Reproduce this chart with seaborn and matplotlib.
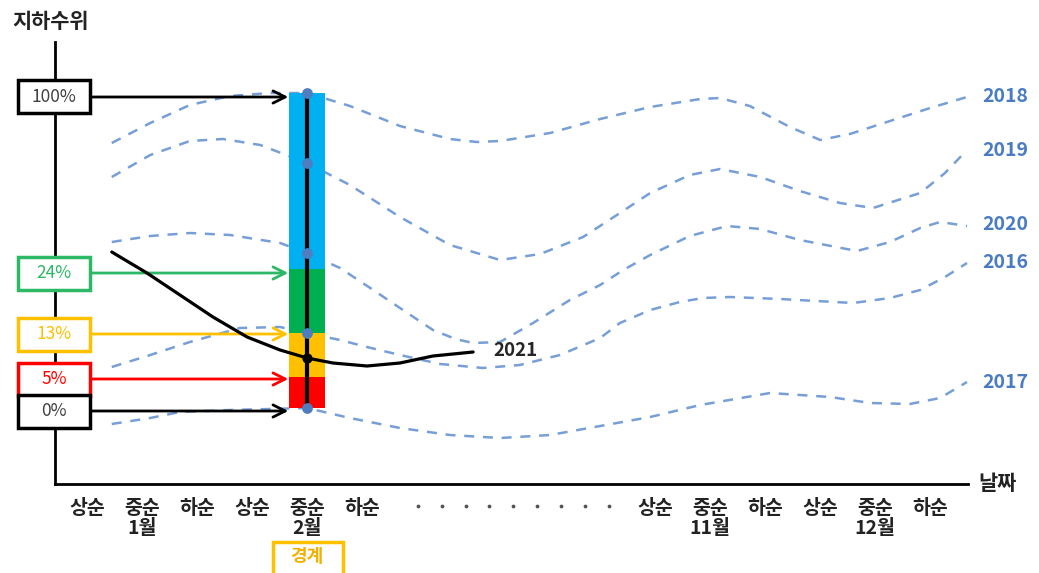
import numpy as np
import pandas as pd
import matplotlib
matplotlib.use("Agg")
import matplotlib.pyplot as plt
import seaborn as sns
from matplotlib.patches import Rectangle

# ---- data (x = 순 index, y = water level, arbitrary units) ----
x_2018 = [0.45, 1.15, 1.87, 2.6, 3.33, 4.0, 4.78, 5.69, 6.6, 7.09, 7.51, 8.42, 9.33, 10.24,
          11.15, 11.51, 12.05, 12.78, 13.33, 13.87, 14.6, 15.33, 16.0]
y_2018 = [34.1, 36.1, 37.9, 38.8, 39.1, 39.1, 37.8, 35.8, 34.5, 34.2, 34.3, 35.1, 36.5, 37.7,
          38.5, 38.6, 37.8, 35.7, 34.4, 35.0, 36.3, 37.6, 38.7]

x_2019 = [0.45, 1.15, 1.87, 2.47, 3.15, 4.0, 4.78, 5.69, 6.6, 7.51, 8.24, 9.02, 9.69, 10.24,
          10.96, 11.51, 12.24, 12.96, 13.69, 14.29, 15.15, 15.6, 16.0]
y_2019 = [30.7, 32.9, 34.3, 34.5, 33.9, 32.1, 29.9, 26.7, 23.9, 22.4, 23.0, 24.7, 27.1, 29.1,
          30.9, 31.5, 30.7, 29.3, 28.1, 27.6, 29.1, 31.1, 33.4]

x_2020 = [0.45, 1.15, 1.87, 2.6, 3.51, 4.0, 4.6, 5.15, 5.69, 6.29, 6.7, 7.02, 7.51, 8.11, 8.78,
          9.33, 9.75, 10.24, 10.96, 11.64, 12.24, 12.96, 14.0, 14.6, 15.15, 15.51, 16.0]
y_2020 = [24.2, 24.8, 25.1, 24.9, 24.1, 23.1, 21.6, 19.6, 17.6, 15.4, 14.5, 14.1, 14.2, 16.1, 18.4,
          19.9, 21.4, 22.9, 24.8, 25.8, 25.5, 24.4, 23.3, 24.2, 25.6, 26.2, 25.8]

x_2016 = [0.45, 1.15, 1.87, 2.78, 3.51, 4.0, 4.6, 5.09, 5.69, 6.42, 7.2, 7.87, 8.6, 9.33,
          9.69, 10.24, 10.78, 11.2, 11.69, 12.6, 13.93, 14.6, 15.15, 15.6, 16.0]
y_2016 = [11.7, 12.9, 14.2, 15.6, 15.7, 15.1, 14.4, 13.7, 12.9, 12.0, 11.6, 11.9, 12.9, 14.6,
          16.1, 17.4, 18.2, 18.6, 18.7, 18.5, 18.1, 18.6, 19.4, 20.7, 22.1]

x_2017 = [0.45, 1.15, 1.69, 2.6, 3.33, 4.0, 4.78, 5.69, 6.6, 7.51, 8.42, 9.33, 10.24, 11.15,
          12.42, 13.51, 14.24, 14.96, 15.51, 16.0]
y_2017 = [6.0, 6.6, 7.2, 7.4, 7.5, 7.6, 6.6, 5.6, 4.9, 4.6, 4.9, 5.8, 6.7, 7.9,
          9.1, 8.7, 8.1, 8.0, 8.6, 10.2]

x_2021 = [0.45, 1.09, 1.69, 2.29, 2.91, 3.51, 4.0, 4.47, 5.09, 5.69, 6.29, 7.02]
y_2021 = [23.2, 21.1, 18.9, 16.7, 14.7, 13.4, 12.6, 12.1, 11.8, 12.1, 12.8, 13.2]

years = ["2018", "2019", "2020", "2016", "2017"]
year_label_y = [38.7, 33.3, 25.9, 22.2, 10.2]

# percentile thresholds on the 2월 중순 bar
pct_labels = ["100%", "24%", "13%", "5%", "0%"]
pct_levels = [39.1, 21.5, 15.1, 10.7, 7.6]
pct_arrow_y = [38.7, 21.1, 15.0, 10.5, 7.3]

ticks_x = [0, 1, 2, 3, 4, 5, 10.33, 11.33, 12.33, 13.33, 14.33, 15.33]
tick_labels = ["상순", "중순", "하순"] * 4
months = ["1월", "2월", "11월", "12월"]
month_x = [1, 4, 11.33, 14.33]
gap_dots_x = [6.02, 6.45, 6.89, 7.31, 7.75, 8.18, 8.62, 9.05, 9.49]
bar_x = 4.0

# ---- style ----
sns.set_theme(style="white")
plt.rcParams['font.family'] = ['Noto Sans CJK KR', 'DejaVu Sans']

DASH = "#5F8ED0"
YEAR_C = "#4A7CC4"
BLUE = "#00B0F0"
GREEN = "#00B050"
GREEN_L = "#2DB866"
YELLOW = "#FFC000"
RED = "#FF0000"

fig = plt.figure(figsize=(10.39, 5.73), dpi=100)
ax = fig.add_axes([55 / 1039, 89 / 573, 913 / 1039, 442 / 573])
ax.set_xlim(-0.582, 16.018)
ax.set_ylim(0, 44.2)

# past years, dashed
for xs, ys in [(x_2018, y_2018), (x_2019, y_2019), (x_2020, y_2020),
               (x_2016, y_2016), (x_2017, y_2017)]:
    sns.lineplot(x=xs, y=ys, ax=ax, color=DASH, lw=1.8, alpha=0.85,
                 linestyle=(0, (4, 3.5)), zorder=2)

for yr, yy in zip(years, year_label_y):
    ax.text(16.27, yy, yr, color=YEAR_C, fontsize=14, fontweight='bold',
            va='center', ha='left', clip_on=False)

# stacked percentile bar
seg_colors = [BLUE, GREEN, YELLOW, RED]
for i, c in enumerate(seg_colors):
    top, bot = pct_levels[i], pct_levels[i + 1]
    ax.bar(bar_x, top - bot, bottom=bot, width=0.655, color=c, zorder=3, linewidth=0)

ax.plot([bar_x, bar_x], [pct_levels[-1], pct_levels[0]], color='black', lw=3, zorder=4)

# 2021 line
sns.lineplot(x=x_2021, y=y_2021, ax=ax, color='black', lw=2.3, zorder=5)
ax.text(7.38, 13.4, "2021", fontsize=13.5, fontweight='bold', va='center', ha='left')

# markers where each year crosses the bar
bar_pts = [y_2018[5], y_2019[5], y_2020[5], y_2016[5], y_2017[5]]
ax.scatter([bar_x] * len(bar_pts), bar_pts, s=60, color="#4F7EC0", zorder=6, linewidths=0)
ax.scatter([bar_x], [y_2021[6]], s=40, color='black', zorder=7)

# label boxes with arrows
box_edge = ['black', GREEN_L, YELLOW, RED, 'black']
box_text = ['#404040', GREEN_L, YELLOW, RED, '#404040']
arrow_c = ['black', GREEN_L, YELLOW, RED, 'black']
for lab, ay, ec, tc, acol in zip(pct_labels, pct_arrow_y, box_edge, box_text, arrow_c):
    ax.add_patch(Rectangle((-1.255, ay - 1.65), 1.31, 3.3, fill=True, facecolor='white',
                           edgecolor=ec, lw=2.5, clip_on=False, zorder=8))
    ax.text(-0.6, ay, lab, color=tc, fontsize=12.5, ha='center', va='center',
            clip_on=False, zorder=9)
    ax.annotate('', xy=(3.66, ay), xytext=(0.055, ay),
                arrowprops=dict(arrowstyle='->', color=acol, lw=2, mutation_scale=22,
                                shrinkA=0, shrinkB=0),
                annotation_clip=False, zorder=4)

# axes
for s in ['top', 'right']:
    ax.spines[s].set_visible(False)
for s in ['left', 'bottom']:
    ax.spines[s].set_color('black')
    ax.spines[s].set_linewidth(2)
ax.set_yticks([])
ax.set_xticks(ticks_x)
ax.set_xticklabels(tick_labels, fontsize=14, fontweight='bold', color='#222222')
ax.tick_params(axis='x', length=0, pad=11)
ax.set_xlabel('')
ax.set_ylabel('')

for m, mx in zip(months, month_x):
    ax.text(mx, -4.5, m, fontsize=14, fontweight='bold', color='#222222',
            ha='center', va='center', clip_on=False)
ax.scatter(gap_dots_x, [-2.2] * len(gap_dots_x), s=3, color='#555555', clip_on=False)

ax.text(-0.67, 46.2, "지하수위", fontsize=15, fontweight='bold', color='#222222',
        ha='center', va='center', clip_on=False)
ax.text(16.2, 0.1, "날짜", fontsize=15, fontweight='bold', color='#222222',
        ha='left', va='center', clip_on=False)

# 경계 box under 2월 중순
ax.add_patch(Rectangle((3.38, -9.5), 1.27, 3.7, fill=False, edgecolor=YELLOW, lw=2.5,
                       clip_on=False))
ax.text(4.0, -7.3, "경계", fontsize=13, fontweight='bold', color="#F2B000",
        ha='center', va='center', clip_on=False)

fig.savefig("out.png", dpi=100)
